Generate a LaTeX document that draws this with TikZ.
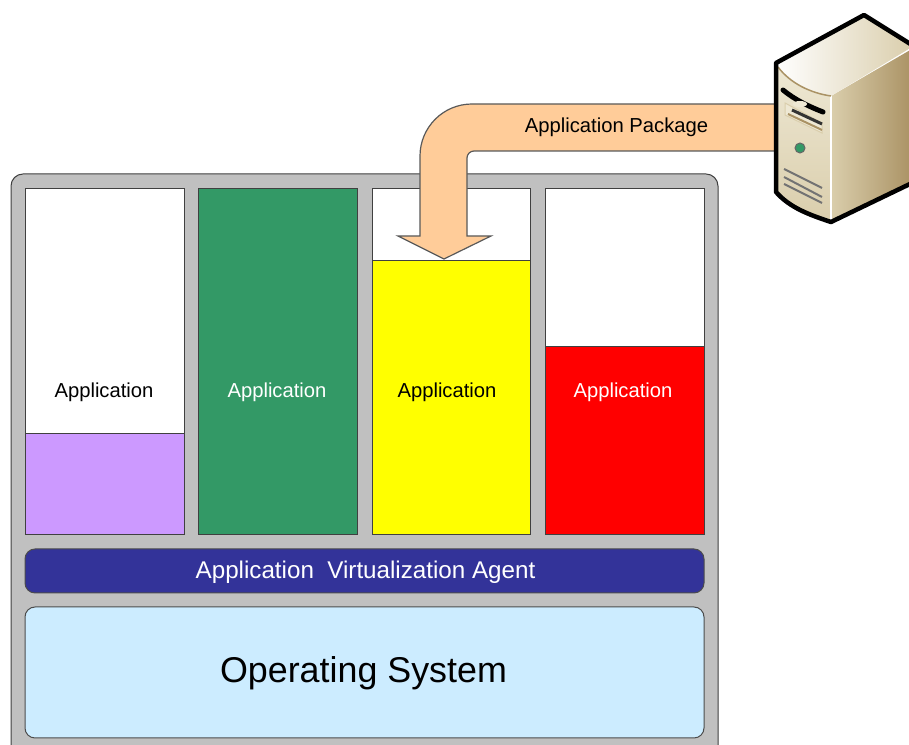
\documentclass[tikz,border=0pt]{standalone}
\usepackage{fontspec}
\setmainfont{Liberation Sans}
\tikzset{
	appbox/.style={draw=black!75, line width=0.1mm},
	applabel/.style={font=\fontsize{5.75}{7}\selectfont},
	bigbar/.style={draw=black!70, line width=0.1mm, rounded corners=0.1cm},
	ventline/.style={line width=0.2mm, color=black!55}
}
\definecolor{panelgray}{RGB}{192,192,192}
\definecolor{apppurple}{RGB}{204,153,255}
\definecolor{appgreen}{RGB}{51,153,102}
\definecolor{appyellow}{RGB}{255,255,0}
\definecolor{agentblue}{RGB}{51,51,153}
\definecolor{osblue}{RGB}{204,236,255}
\definecolor{pkgorange}{RGB}{255,204,153}
\definecolor{caselight}{RGB}{238,232,212}
\definecolor{casemid}{RGB}{218,206,172}
\definecolor{casedark}{RGB}{170,146,100}

\begin{document}
\begin{tikzpicture}
			%%%%% START %%%%%
			\useasboundingbox (0, 0) rectangle (9.09, 7.45);
			\clip (0, 0) rectangle (9.09, 7.45);
			
			% panel
			\draw[fill=panelgray, draw=black!75, line width=0.1mm, rounded corners=0.12cm] (0.11, -0.5) rectangle (7.18, 5.71);
			
			% columns
			\draw[appbox, fill=white] (0.25, 2.10) rectangle (1.845, 5.565);
			\draw[appbox, fill=apppurple] (0.25, 2.10) rectangle (1.845, 3.11);
			\draw[appbox, fill=appgreen] (1.98, 2.10) rectangle (3.575, 5.565);
			\draw[appbox, fill=white] (3.72, 2.10) rectangle (5.305, 5.565);
			\draw[appbox, fill=appyellow] (3.72, 2.10) rectangle (5.305, 4.84);
			\draw[appbox, fill=white] (5.45, 2.10) rectangle (7.04, 5.565);
			\draw[appbox, fill=red] (5.45, 2.10) rectangle (7.04, 3.98);
			
			\node[applabel] (purplelabel) at (1.04, 3.53) {Application};
			\node[applabel, text=white] (greenlabel) at (2.77, 3.53) {Application};
			\node[applabel] (yellowlabel) at (4.47, 3.53) {Application};
			\node[applabel, text=white] (redlabel) at (6.23, 3.53) {Application};
			
			% bars
			\draw[bigbar, fill=agentblue] (0.25, 1.52) rectangle (7.04, 1.96);
			\node[text=white, font=\fontsize{6.88}{8}\selectfont] (agentlabel) at (3.655, 1.73) {Application\ \ Virtualization Agent};
			\draw[bigbar, fill=osblue] (0.25, 0.07) rectangle (7.04, 1.38);
			\node[font=\fontsize{10.2}{12}\selectfont] (oslabel) at (3.635, 0.72) {Operating System};
			
			% package arrow
			\draw[fill=pkgorange, draw=black!65, line width=0.12mm] (7.80, 6.41) -- (4.72, 6.41) arc (90:180:0.52) -- (4.20, 5.09) -- (3.98, 5.09) -- (4.44, 4.86) -- (4.91, 5.09) -- (4.67, 5.09) -- (4.67, 5.87) arc (180:90:0.07) -- (7.80, 5.94) -- cycle;
			\node[font=\fontsize{5.76}{8}\selectfont] (packagelabel) at (6.165, 6.18) {Application Package};
			
			% server
			\shade[top color=caselight, bottom color=casemid] (7.76, 6.81) .. controls (8.00, 6.55) and (8.10, 6.52) .. (8.31, 6.49) -- (8.31, 5.23) .. controls (8.10, 5.32) and (7.90, 5.40) .. (7.76, 5.53) -- cycle;
			\shade[left color=casemid, right color=casedark] (8.31, 6.49) -- (9.12, 6.96) -- (9.12, 5.62) -- (8.31, 5.23) -- cycle;
			\shade[shading angle=60, left color=white, right color=casemid] (7.76, 6.81) -- (8.64, 7.29) -- (9.12, 6.98) -- (8.31, 6.49) .. controls (8.10, 6.52) and (7.90, 6.62) .. (7.76, 6.81) -- cycle;
			\draw[white, line width=0.15mm] (8.31, 6.49) -- (8.31, 5.23);
			\draw[line width=0.15mm, color=casedark] (7.78, 6.78) .. controls (7.90, 6.62) and (8.10, 6.52) .. (8.31, 6.49);
			\draw[line width=0.45mm, line join=round] (9.12, 7.00) -- (8.64, 7.30) -- (7.76, 6.82) -- (7.76, 5.53) .. controls (7.90, 5.37) and (8.10, 5.30) .. (8.31, 5.23) -- (9.12, 5.62);
			
			\draw[line width=0.5mm, line cap=round] (7.83, 6.55) .. controls (7.95, 6.45) and (8.10, 6.38) .. (8.23, 6.33);
			\draw[fill=caselight, draw=none] (8.00, 6.41) ellipse (0.07 and 0.03);
			\draw[fill=caselight, draw=casemid, line width=0.1mm] (7.85, 6.42) -- (8.22, 6.22) -- (8.22, 6.12) -- (7.85, 6.30) -- cycle;
			\draw[line width=0.3mm, color=black!80] (7.92, 6.35) -- (8.22, 6.21);
			\draw[line width=0.2mm, color=casedark] (7.88, 6.31) -- (8.22, 6.15);
			\draw[fill=appgreen, draw=black!60, line width=0.1mm] (8.00, 5.97) circle (0.05);
			\draw[ventline] (7.84, 5.76) -- (8.22, 5.57);
			\draw[ventline] (7.84, 5.68) -- (8.22, 5.48);
			\draw[ventline] (7.84, 5.61) -- (8.22, 5.42);
			%%%%% END %%%%%
		\end{tikzpicture}
\end{document}
